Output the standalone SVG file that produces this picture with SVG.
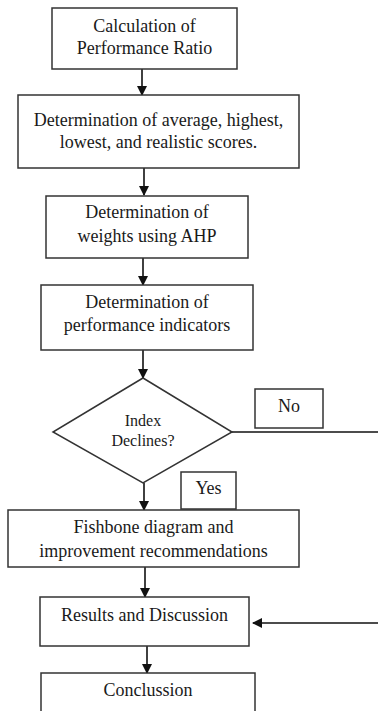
<svg xmlns="http://www.w3.org/2000/svg" width="378" height="711" viewBox="0 0 378 711">
<style>
.box{fill:#fff;stroke:#333;stroke-width:1.5}
.t{font-family:"Liberation Serif","Times New Roman",serif;font-size:18px;fill:#1a1a1a;text-anchor:middle}
.s{font-size:16px}
.c{stroke:#111;stroke-width:1.6;fill:none}
</style>
<defs>
<marker id="ah" markerWidth="10" markerHeight="10" refX="9" refY="5" orient="auto" markerUnits="userSpaceOnUse">
<path d="M0,0 L10,5 L0,10 Z" fill="#111"/>
</marker>
</defs>
<rect width="378" height="711" fill="#fff"/>
<g id="connectors">
<line class="c" x1="142" y1="69" x2="142" y2="95" marker-end="url(#ah)"/>
<line class="c" x1="144" y1="168" x2="144" y2="195" marker-end="url(#ah)"/>
<line class="c" x1="143" y1="258" x2="143" y2="285" marker-end="url(#ah)"/>
<line class="c" x1="143" y1="350" x2="143" y2="378" marker-end="url(#ah)"/>
<line class="c" x1="232" y1="432" x2="378" y2="432"/>
<line class="c" x1="144" y1="483" x2="144" y2="510" marker-end="url(#ah)"/>
<line class="c" x1="145" y1="567" x2="145" y2="597" marker-end="url(#ah)"/>
<line class="c" x1="378" y1="623" x2="253" y2="623" marker-end="url(#ah)"/>
<line class="c" x1="147" y1="646" x2="147" y2="673" marker-end="url(#ah)"/>
</g>
<g id="n1"><rect class="box" x="52" y="8" width="185" height="61"/>
<text class="t" x="144.5" y="32">Calculation of</text><text class="t" x="144.5" y="54">Performance Ratio</text></g>
<g id="n2"><rect class="box" x="18" y="95" width="281" height="73"/>
<text class="t" x="158.5" y="126">Determination of average, highest,</text><text class="t" x="158.5" y="148">lowest, and realistic scores.</text></g>
<g id="n3"><rect class="box" x="46" y="196" width="202" height="62"/>
<text class="t" x="147" y="218">Determination of</text><text class="t" x="147" y="242">weights using AHP</text></g>
<g id="n4"><rect class="box" x="41" y="285" width="212" height="65"/>
<text class="t" x="147" y="308">Determination of</text><text class="t" x="147" y="331">performance indicators</text></g>
<g id="n5"><polygon class="box" points="143,378 232,432 143,483 53,432"/>
<text class="t s" x="143" y="426">Index</text><text class="t s" x="143" y="446">Declines?</text></g>
<g id="no"><rect class="box" x="255" y="389" width="68" height="39"/>
<text class="t" x="289" y="412">No</text></g>
<g id="yes"><rect class="box" x="181" y="472" width="55" height="37"/>
<text class="t" x="208.5" y="494">Yes</text></g>
<g id="n6"><rect class="box" x="8" y="510" width="291" height="57"/>
<text class="t" x="153.5" y="533">Fishbone diagram and</text><text class="t" x="153.5" y="557">improvement recommendations</text></g>
<g id="n7"><rect class="box" x="40" y="597" width="209" height="49"/>
<text class="t" x="144.5" y="621">Results and Discussion</text></g>
<g id="n8"><rect class="box" x="41" y="673" width="214" height="50"/>
<text class="t" x="148" y="696">Conclussion</text></g>
</svg>
